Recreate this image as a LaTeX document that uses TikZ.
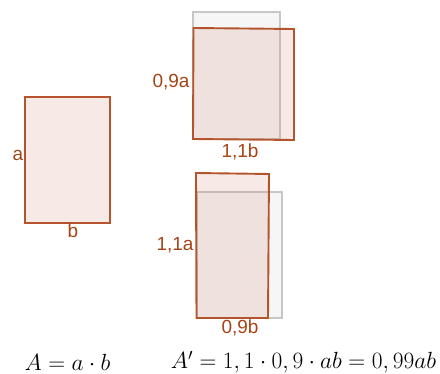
\RequirePackage{fix-cm}
\documentclass[tikz,border=0pt]{standalone}
\usepackage[no-math]{fontspec}
\setmainfont{Liberation Sans}
\definecolor{rust}{RGB}{180,84,44}
\definecolor{txt}{RGB}{165,68,22}
\definecolor{pinkf}{RGB}{205,120,100}
\begin{document}
\begin{tikzpicture}[x=1pt,y=-1pt,
  redrect/.style={draw=rust,line width=1.9pt,fill=pinkf,fill opacity=0.16,line join=miter},
  grayrect/.style={draw=black!22,line width=1.9pt,fill=black!30,fill opacity=0.12},
  lab/.style={text=txt,font=\fontsize{19}{21}\selectfont,inner sep=0pt},
  formula/.style={font=\fontsize{23.4}{27}\selectfont,inner sep=0pt}]
\useasboundingbox (0,0) rectangle (440,374);
% left rectangle
\draw[redrect] (25,97) rectangle (110,223);
\node[lab] (la) at (18,155) {a};
\node[lab] (lb) at (73,231) {b};
% top right
\draw[grayrect] (193,12) rectangle (280,139);
\draw[redrect] (193.5,28) -- (294,29) -- (294,140) -- (193,139) -- cycle;
\node[lab] (l09a) at (171,82) {0,9a};
\node[lab] (l11b) at (240,152) {1,1b};
% bottom right
\draw[grayrect] (197,192) rectangle (282,318);
\draw[redrect] (196,173) -- (269,174) -- (268,318) -- (196.5,318) -- cycle;
\node[lab] (l11a) at (175,245) {1,1a};
\node[lab] (l09b) at (240,328) {0,9b};
% formulas
\node[formula] (f1) at (67.5,362) {$A=a\cdot b$};
\node[formula] (f2) at (303.5,362) {$A'=1,1\cdot 0,9\cdot ab=0,99ab$};
\end{tikzpicture}
\end{document}
